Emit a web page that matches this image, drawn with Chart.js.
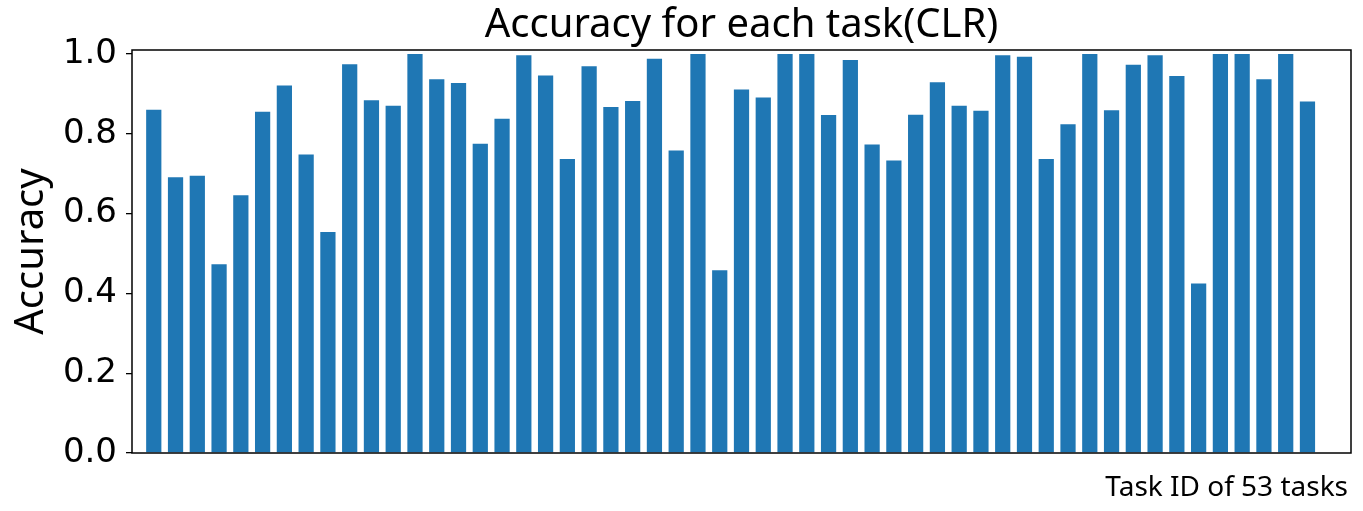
<!DOCTYPE html>
<html>
<head>
<meta charset="utf-8">
<script src="https://cdn.jsdelivr.net/npm/chart.js@4"></script>
<style>
  body { margin: 0; background: #fff; }
  canvas { display: block; }
</style>
</head>
<body>
<canvas id="chart" width="1363" height="511"></canvas>
<script>
// accuracy per task
const taskIds = [0, 1, 2, 3, 4, 5, 6, 7, 8, 9, 10, 11, 12, 13, 14, 15, 16, 17,
  18, 19, 20, 21, 22, 23, 24, 25, 26, 27, 28, 29, 30, 31, 32, 33, 34, 35,
  36, 37, 38, 39, 40, 41, 42, 43, 44, 45, 46, 47, 48, 49, 50, 51, 52, 53];
const accuracy = [0.860, 0.691, 0.695, 0.473, 0.646, 0.855, 0.921, 0.748, 0.554, 0.974,
  0.884, 0.870, 1.0, 0.937, 0.927, 0.775, 0.838, 0.997, 0.946, 0.737,
  0.969, 0.867, 0.882, 0.988, 0.758, 1.0, 0.458, 0.911, 0.891, 1.0,
  1.0, 0.847, 0.985, 0.773, 0.733, 0.848, 0.929, 0.870, 0.858, 0.997,
  0.993, 0.737, 0.824, 1.0, 0.859, 0.973, 0.997, 0.945, 0.425, 1.0,
  1.0, 0.937, 1.0, 0.881];
const yTicks = [0, 0.2, 0.4, 0.6, 0.8, 1.0];

const titleText = 'Accuracy for each task(CLR)';
const yLabel = 'Accuracy';
const xLabel = 'Task ID of 53 tasks';

// frame + texts drawn like matplotlib does
const decorations = {
  id: 'decorations',
  afterDraw(chart) {
    const { ctx, chartArea: a } = chart;
    ctx.save();
    ctx.strokeStyle = '#000';
    ctx.lineWidth = 1.5;
    ctx.strokeRect(a.left, a.top, a.right - a.left, a.bottom - a.top);

    ctx.fillStyle = '#000';
    ctx.font = '40px "Noto Sans"';
    ctx.textAlign = 'center';
    ctx.textBaseline = 'alphabetic';
    ctx.fillText(titleText, (a.left + a.right) / 2, 37);

    ctx.save();
    ctx.translate(43, (a.top + a.bottom) / 2);
    ctx.rotate(-Math.PI / 2);
    ctx.fillText(yLabel, 0, 0);
    ctx.restore();

    ctx.font = '28px "Noto Sans"';
    ctx.textAlign = 'right';
    ctx.fillText(xLabel, a.right - 3, 496);
    ctx.restore();
  }
};

new Chart(document.getElementById('chart'), {
  type: 'bar',
  data: {
    datasets: [{
      data: accuracy.map((v, i) => ({ x: taskIds[i], y: v })),
      backgroundColor: '#1f77b4',
      borderWidth: 0,
      barPercentage: 0.7,
      categoryPercentage: 1.0
    }]
  },
  options: {
    responsive: false,
    animation: false,
    layout: { padding: { left: 0, right: 12, top: 50, bottom: 58 } },
    plugins: { legend: { display: false }, tooltip: { enabled: false } },
    scales: {
      x: {
        type: 'linear',
        min: -1,
        max: 55,
        offset: false,
        ticks: { display: false },
        grid: { display: false },
        border: { display: false },
        afterFit: (s) => { s.height = 0; }
      },
      y: {
        min: 0,
        max: 1.01,
        afterBuildTicks: (s) => { s.ticks = yTicks.map(v => ({ value: v })); },
        afterFit: (s) => { s.width = 132; },
        ticks: {
          color: '#000',
          padding: 9,
          font: { family: '"DejaVu Sans"', size: 34 },
          callback: (v) => Number(v).toFixed(1)
        },
        grid: {
          drawOnChartArea: false,
          drawTicks: true,
          tickLength: 6,
          color: '#000',
          lineWidth: 1.3
        },
        border: { display: false }
      }
    }
  },
  plugins: [decorations]
});
</script>
</body>
</html>
